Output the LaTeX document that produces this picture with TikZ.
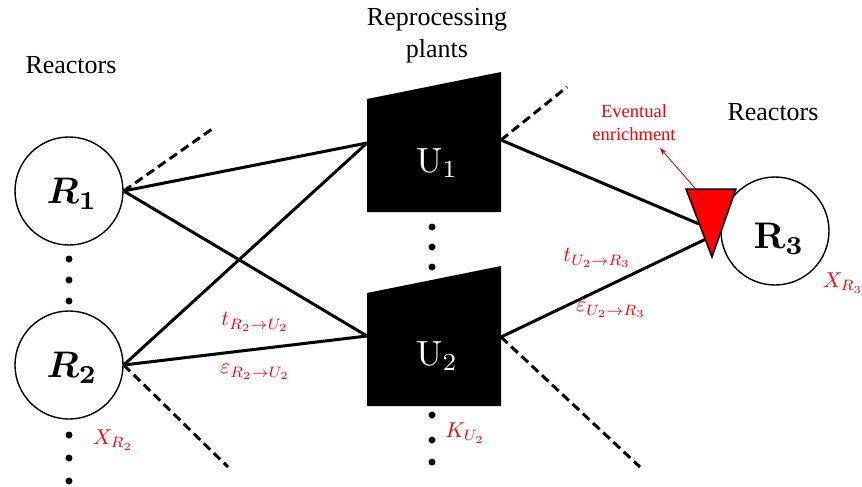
\documentclass[tikz,border=0pt]{standalone}
\usepackage{amsmath}
\usepackage[no-math]{fontspec}
\setmainfont{Liberation Serif}
\usetikzlibrary{arrows.meta}
\definecolor{lblred}{RGB}{255,0,0}
\definecolor{arrred}{RGB}{192,0,0}

\begin{document}
\begin{tikzpicture}[x=1pt,y=-1pt,
  reactor/.style={circle, draw, line width=1.4pt, minimum size=108pt, inner sep=0pt},
  link/.style={line width=3pt},
  dashlink/.style={line width=3pt, dash pattern=on 9pt off 5pt},
  plant/.style={fill=black},
  caption/.style={font=\fontsize{26}{32}\selectfont, align=center},
  bigsym/.style={inner sep=0pt, scale=#1},
  redlbl/.style={text=lblred, inner sep=0pt, scale=2.15},
  dotmark/.style={circle, fill=black, inner sep=0pt, minimum size=7pt}]
\useasboundingbox (0,0) rectangle (862,487);

% captions
\node[caption] (capL) at (71,65) {Reactors};
\node[caption] (capM) at (437,36) {Reprocessing\\plants};
\node[caption] (capR) at (773,112) {Reactors};

% reactors
\node[reactor] (R1) at (69,191) {};
\node[reactor] (R2) at (69,365) {};
\node[reactor] (R3) at (775,231) {};
\node[bigsym=3.7] (R1l) at (72,194) {$\boldsymbol{R_1}$};
\node[bigsym=3.7] (R2l) at (72,368) {$\boldsymbol{R_2}$};
\node[bigsym=3.7] (R3l) at (779,239) {$\mathbf{R_3}$};

% reprocessing plants
\fill[plant] (367,99) -- (501,72) -- (501,212) -- (367,212) -- cycle;
\fill[plant] (367,293) -- (501,266) -- (501,406) -- (367,406) -- cycle;
\node[bigsym=3.5, text=white] (U1) at (437,163) {$\mathrm{U}_1$};
\node[bigsym=3.5, text=white] (U2) at (437,356) {$\mathrm{U}_2$};

% contact points on the plants and the enrichment stage
\coordinate (U1w) at (367,143);
\coordinate (U1e) at (501,140);
\coordinate (U2w) at (367,336);
\coordinate (U2e) at (501,337);
\coordinate (E1) at (699,224);
\coordinate (E2) at (706,239);

% free ends of the dashed links
\coordinate (dR1) at (215,127);
\coordinate (dR2) at (228,467);
\coordinate (dU1) at (567,87);
\coordinate (dU2) at (640,467);

% links
\draw[link] (R1.east) -- (U1w);
\draw[link] (R1.east) -- (U2w);
\draw[link] (R2.east) -- (U1w);
\draw[link] (R2.east) -- (U2w);
\draw[link] (U1e) -- (E1);
\draw[link] (U2e) -- (E2);
\draw[dashlink] (R1.east) -- (dR1);
\draw[dashlink] (R2.east) -- (dR2);
\draw[dashlink] (U1e) -- (dU1);
\draw[dashlink] (U2e) -- (dU2);

% enrichment stage
\draw[fill=red, line width=1.5pt, line join=miter] (686,189) -- (736,189) -- (712,257) -- cycle;
\coordinate (Ein) at (707,202);
\coordinate (Eout) at (660,148);
\draw[arrred, line width=0.8pt, -{Stealth[length=7pt,width=5pt]}] (Ein) -- (Eout);
\node[text=lblred, font=\fontsize{18.5}{23}\selectfont, align=center] (Elbl) at (634,123) {Eventual\\enrichment};

% ellipsis dots
\foreach \y [count=\i] in {259,280,301} \node[dotmark] (dA\i) at (69,\y) {};
\foreach \y [count=\i] in {435,458,481} \node[dotmark] (dB\i) at (69,\y) {};
\foreach \y [count=\i] in {227,247,267} \node[dotmark] (dC\i) at (432,\y) {};
\foreach \y [count=\i] in {415,440,462} \node[dotmark] (dD\i) at (432,\y) {};

% flow and capacity labels
\node[redlbl] (tRU) at (255,322) {$t_{R_2\to U_2}$};
\node[redlbl] (eRU) at (255,372) {$\varepsilon_{R_2\to U_2}$};
\node[redlbl] (XR2) at (113,440) {$X_{R_2}$};
\node[redlbl] (KU2) at (465,433) {$K_{U_2}$};
\node[redlbl] (tUR) at (597,258) {$t_{U_2\to R_3}$};
\node[redlbl] (eUR) at (611,310) {$\varepsilon_{U_2\to R_3}$};
\node[redlbl] (XR3) at (843,283) {$X_{R_3}$};
\end{tikzpicture}
\end{document}
